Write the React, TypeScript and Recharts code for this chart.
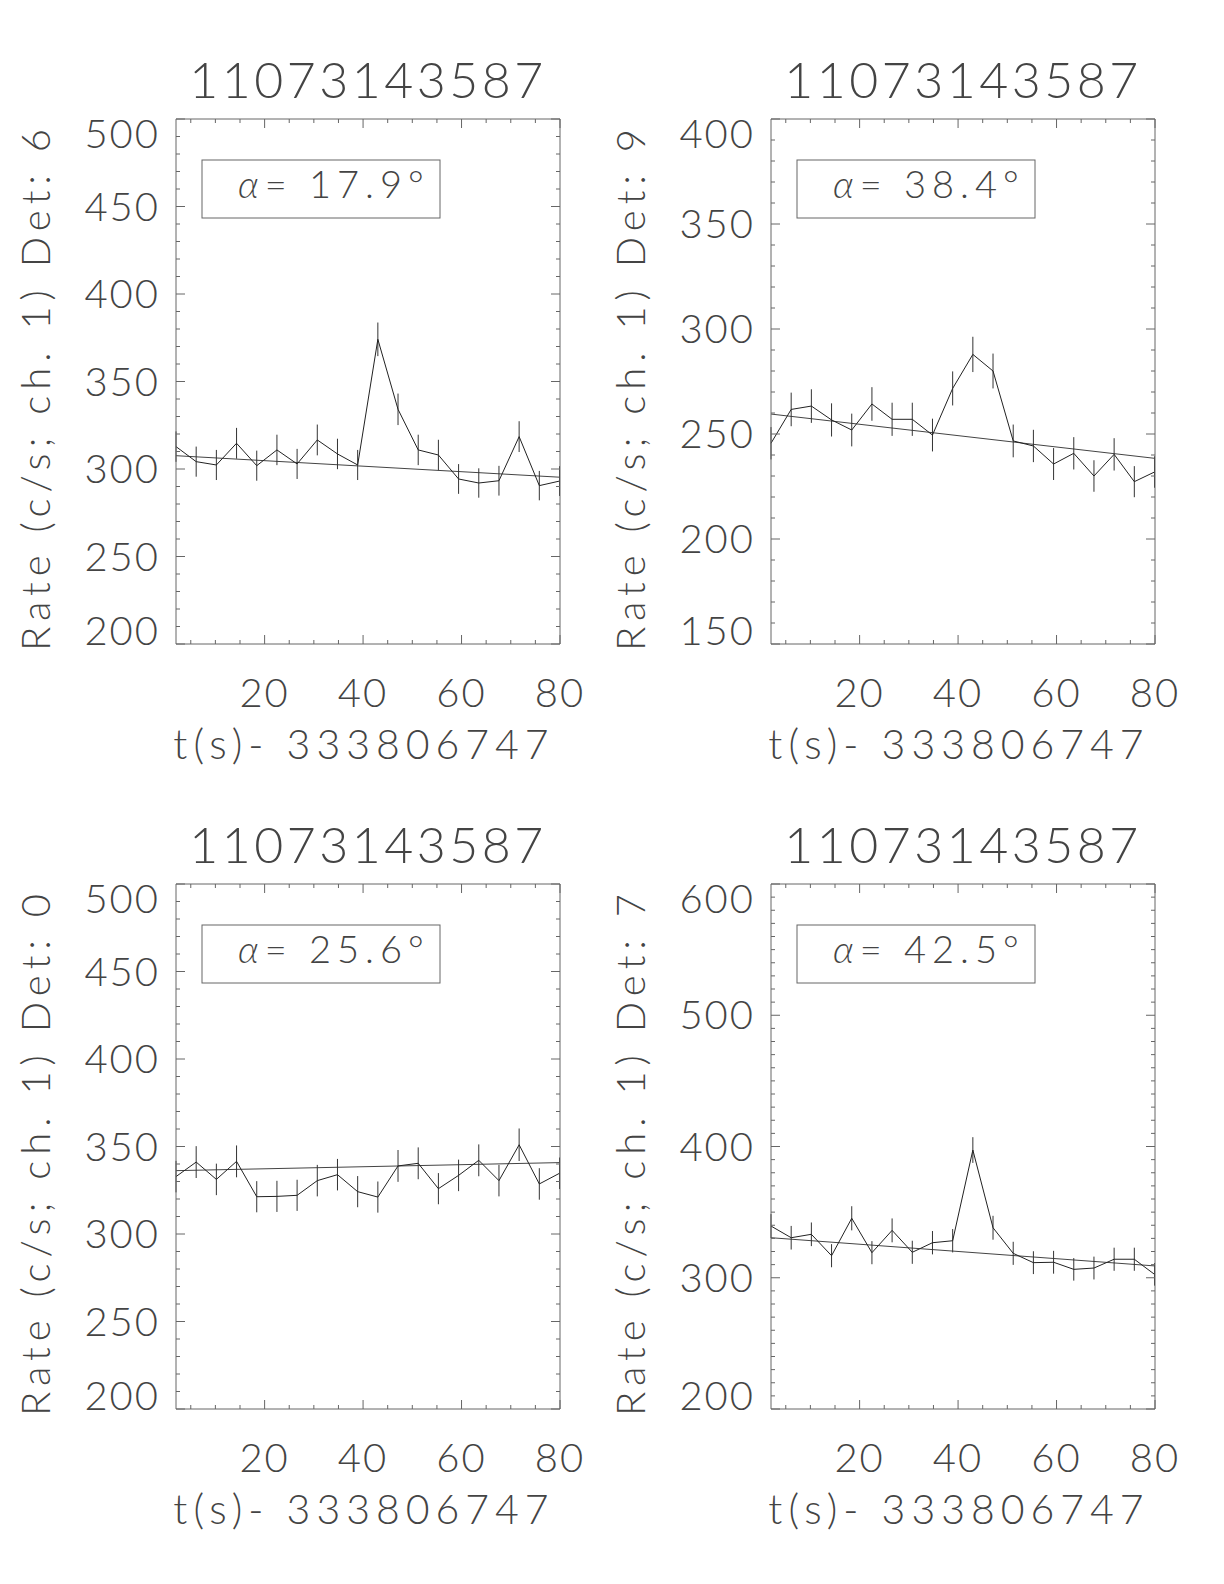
import React from "react";
import {
  ComposedChart,
  Line,
  XAxis,
  YAxis,
  ErrorBar,
  ReferenceLine,
  Label,
} from "recharts";

// bin centres, seconds after 333806747
const TIMES = [2.0, 6.1, 10.2, 14.3, 18.4, 22.5, 26.6, 30.7, 34.8, 38.9, 43.0, 47.1, 51.2, 55.3, 59.4, 63.5, 67.6, 71.7, 75.8, 79.9];
const X_TICKS = [5, 10, 15, 20, 25, 30, 35, 40, 45, 50, 55, 60, 65, 70, 75, 80];

const RATE_DET6 = [312.8, 304.2, 302.3, 314.7, 301.9, 310.9, 302.9, 316.6, 308.6, 302.3, 374.1, 334.1, 310.9, 308.0, 294.3, 292.0, 293.3, 318.5, 290.5, 293.1];
const ERR_DET6 = [8.7, 8.6, 8.6, 8.8, 8.6, 8.7, 8.6, 8.8, 8.7, 8.6, 9.6, 9.0, 8.7, 8.7, 8.5, 8.4, 8.5, 8.8, 8.4, 8.5];
const FIT_DET6 = [307.6, 295.3];

const RATE_DET9 = [245.6, 261.7, 263.3, 256.7, 251.9, 264.3, 257.0, 257.0, 249.5, 271.7, 287.9, 280.0, 246.7, 244.3, 235.7, 240.8, 230.0, 240.3, 227.3, 231.9];
const ERR_DET9 = [7.7, 8.0, 8.0, 7.9, 7.8, 8.0, 7.9, 7.9, 7.8, 8.1, 8.4, 8.3, 7.8, 7.7, 7.6, 7.7, 7.5, 7.7, 7.4, 7.5];
const FIT_DET9 = [259.5, 238.4];

const RATE_DET0 = [332.8, 341.1, 331.2, 341.5, 321.3, 321.5, 322.1, 330.5, 333.9, 324.2, 321.1, 338.9, 340.4, 325.9, 333.5, 342.1, 330.5, 351.0, 328.6, 334.7];
const ERR_DET0 = [9.0, 9.1, 9.0, 9.1, 8.9, 8.9, 8.9, 9.0, 9.0, 8.9, 8.9, 9.1, 9.1, 8.9, 9.0, 9.1, 9.0, 9.3, 9.0, 9.0];
const FIT_DET0 = [336.2, 340.8];

const RATE_DET7 = [339.4, 330.5, 333.1, 316.8, 345.3, 319.1, 336.1, 319.4, 326.7, 328.2, 397.3, 338.1, 318.6, 311.5, 311.8, 306.4, 307.4, 314.1, 314.1, 302.6];
const ERR_DET7 = [9.1, 9.0, 9.0, 8.8, 9.2, 8.8, 9.1, 8.8, 8.9, 8.9, 9.8, 9.1, 8.8, 8.7, 8.7, 8.6, 8.7, 8.8, 8.8, 8.6];
const FIT_DET7 = [330.5, 309.0];

const TITLE = "11073143587";
const X_LABEL = "t(s)- 333806747";

const panels = [
  { det: "6", alpha: "17.9", rates: RATE_DET6, errs: ERR_DET6, fit: FIT_DET6, yDomain: [200, 500], yMajor: 50 },
  { det: "9", alpha: "38.4", rates: RATE_DET9, errs: ERR_DET9, fit: FIT_DET9, yDomain: [150, 400], yMajor: 50 },
  { det: "0", alpha: "25.6", rates: RATE_DET0, errs: ERR_DET0, fit: FIT_DET0, yDomain: [200, 500], yMajor: 50 },
  { det: "7", alpha: "42.5", rates: RATE_DET7, errs: ERR_DET7, fit: FIT_DET7, yDomain: [200, 600], yMajor: 100 },
];

const layout = [
  { left: 0, top: 0 },
  { left: 595, top: 0 },
  { left: 0, top: 765 },
  { left: 595, top: 765 },
];

const W = 612;
const H = 800;
const BOX = { x: 176, y: 119, w: 384, h: 525 };
const FONT = 'Lato, "DejaVu Sans", sans-serif';
const TEXT = "#444";
const AXIS = "#666";
const INK = "#222";

const txt = { fontFamily: FONT, fontWeight: 300, fill: TEXT };

const Panel = ({ cfg, left, top }: any) => {
  const data = TIMES.map((t, i) => ({ t, rate: cfg.rates[i], err: cfg.errs[i] }));
  const [y0, y1] = cfg.yDomain;
  const yTicks: number[] = [];
  for (let v = y0; v <= y1; v += 10) yTicks.push(v);

  // bottom axis ticks; the mirrored ticks on the top edge are drawn here too
  const bottomTick = (p: any) => {
    const v = p.payload.value;
    const len = v % 20 === 0 ? 9 : 4;
    const yTop = p.y - BOX.h;
    return (
      <g>
        <line x1={p.x} y1={p.y} x2={p.x} y2={p.y - len} stroke={AXIS} />
        <line x1={p.x} y1={yTop} x2={p.x} y2={yTop + len} stroke={AXIS} />
        {v % 20 === 0 && (
          <text x={p.x} y={p.y + 63} textAnchor="middle" fontSize={40} letterSpacing={2} style={txt}>
            {v}
          </text>
        )}
      </g>
    );
  };
  const leftTick = (p: any) => {
    const v = p.payload.value;
    const major = (v - y0) % cfg.yMajor === 0;
    const len = major ? 9 : 4;
    const xRight = p.x + BOX.w;
    // end labels sit inside the box range, as in the original plot
    const shift = v === y1 ? 15 : v === y0 ? -13 : 0;
    return (
      <g>
        <line x1={p.x} y1={p.y} x2={p.x + len} y2={p.y} stroke={AXIS} />
        <line x1={xRight} y1={p.y} x2={xRight - len} y2={p.y} stroke={AXIS} />
        {major && (
          <text x={p.x - 16} y={p.y + shift + 14} textAnchor="end" fontSize={40} letterSpacing={2} style={txt}>
            {v}
          </text>
        )}
      </g>
    );
  };

  return (
    <div style={{ position: "absolute", left, top, width: W, height: H }}>
      <ComposedChart width={W} height={H} data={data} margin={{ top: 99, right: 0, bottom: 0, left: 0 }}>
        <XAxis
          xAxisId="b"
          dataKey="t"
          type="number"
          domain={[2, 80]}
          ticks={X_TICKS}
          interval={0}
          height={H - BOX.y - BOX.h}
          tickSize={0}
          tickMargin={0}
          tickLine={false}
          axisLine={{ stroke: AXIS }}
          tick={bottomTick}
        >
          <Label
            content={() => (
              <text x={364} y={759} textAnchor="middle" fontSize={41} letterSpacing={6} style={txt}>
                {X_LABEL}
              </text>
            )}
          />
        </XAxis>
        <XAxis
          xAxisId="t"
          orientation="top"
          type="number"
          domain={[2, 80]}
          allowDataOverflow
          height={20}
          tick={false}
          tickLine={false}
          axisLine={{ stroke: AXIS }}
        />
        <YAxis
          yAxisId="l"
          type="number"
          domain={cfg.yDomain}
          allowDataOverflow
          ticks={yTicks}
          interval={0}
          width={176}
          tickSize={0}
          tickMargin={0}
          tickLine={false}
          axisLine={{ stroke: AXIS }}
          tick={leftTick}
        >
          <Label
            content={() => (
              <text
                x={50}
                y={387}
                transform="rotate(-90, 50, 387)"
                textAnchor="middle"
                fontSize={40}
                letterSpacing={6}
                style={txt}
              >
                {`Rate (c/s; ch. 1) Det: ${cfg.det}`}
              </text>
            )}
          />
        </YAxis>
        <YAxis
          yAxisId="r"
          orientation="right"
          type="number"
          domain={cfg.yDomain}
          allowDataOverflow
          width={52}
          tick={false}
          tickLine={false}
          axisLine={{ stroke: AXIS }}
        />
        <ReferenceLine
          xAxisId="b"
          yAxisId="l"
          segment={[
            { x: 2, y: cfg.fit[0] },
            { x: 80, y: cfg.fit[1] },
          ]}
          stroke="#444"
          strokeWidth={1}
        />
        <Line
          xAxisId="b"
          yAxisId="l"
          dataKey="rate"
          type="linear"
          stroke={INK}
          strokeWidth={1}
          dot={false}
          activeDot={false}
          isAnimationActive={false}
        >
          <ErrorBar dataKey="err" direction="y" width={0} stroke="#333" strokeWidth={1} isAnimationActive={false} />
        </Line>
      </ComposedChart>
      <svg width={W} height={H} style={{ position: "absolute", left: 0, top: 0, pointerEvents: "none" }}>
        <text x={BOX.x + BOX.w / 2} y={98} textAnchor="middle" fontSize={50} letterSpacing={3.5} style={txt}>
          {TITLE}
        </text>
        <rect x={BOX.x + 26} y={BOX.y + 41} width={238} height={58} fill="none" stroke={AXIS} />
        <text x={BOX.x + 62} y={BOX.y + 79} fontSize={38} letterSpacing={6} style={txt}>
          <tspan fontStyle="italic">α</tspan>= {cfg.alpha}°
        </text>
      </svg>
    </div>
  );
};

export default function App() {
  return (
    <div style={{ position: "relative", width: 1224, height: 1584, background: "#fff" }}>
      <style>{"body{margin:0}"}</style>
      {panels.map((cfg, i) => (
        <Panel key={i} cfg={cfg} left={layout[i].left} top={layout[i].top} />
      ))}
    </div>
  );
}
